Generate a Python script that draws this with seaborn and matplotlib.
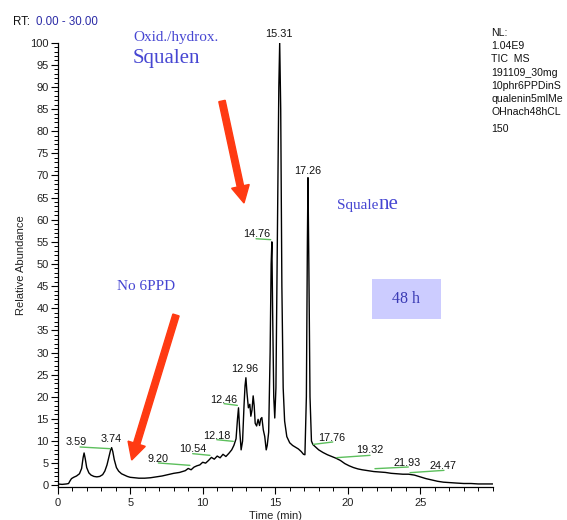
import matplotlib
matplotlib.use("Agg")
import matplotlib.pyplot as plt
import seaborn as sns
import pandas as pd
from matplotlib.patches import FancyArrow, Rectangle
from matplotlib.transforms import IdentityTransform
from matplotlib.ticker import MultipleLocator, FixedLocator

# ---------------- data ----------------
rt_min = [
    0.0, 0.3, 0.6, 0.75, 0.85, 0.95, 1.1, 1.3, 1.5, 1.65,
    1.75, 1.82, 1.9, 2.0, 2.15, 2.3, 2.5, 2.7, 2.9, 3.1,
    3.25, 3.4, 3.55, 3.65, 3.72, 3.8, 3.9, 4.05, 4.2, 4.4,
    4.6, 4.8, 5.0, 5.3, 5.6, 6.0, 6.4, 6.8, 7.2, 7.6,
    8.0, 8.4, 8.8, 9.0, 9.2, 9.4, 9.6, 9.8, 10.0, 10.2,
    10.4, 10.6, 10.8, 11.0, 11.2, 11.4, 11.6, 11.8, 12.0, 12.15,
    12.3, 12.4, 12.47, 12.55, 12.65, 12.75, 12.85, 12.92, 12.98, 13.05,
    13.15, 13.25, 13.32, 13.4, 13.48, 13.55, 13.62, 13.72, 13.82, 13.92,
    14.0, 14.08, 14.18, 14.28, 14.38, 14.45, 14.55, 14.65, 14.72, 14.77,
    14.82, 14.9, 14.97, 15.05, 15.15, 15.25, 15.31, 15.38, 15.46, 15.55,
    15.65, 15.8, 16.0, 16.2, 16.4, 16.6, 16.8, 16.95, 17.05, 17.15,
    17.22, 17.26, 17.32, 17.4, 17.5, 17.6, 17.8, 18.0, 18.3, 18.6,
    18.9, 19.2, 19.5, 19.8, 20.1, 20.4, 20.7, 21.0, 21.4, 21.8,
    22.2, 22.6, 23.0, 23.4, 23.8, 24.2, 24.6, 25.0, 25.4, 25.8,
    26.2, 26.6, 27.0, 27.5, 28.0, 28.5, 29.0, 29.5, 30.0,
]
rel_abundance = [
    0.3, 0.2, 0.3, 0.4, 1.0, 1.5, 1.8, 2.1, 2.6, 3.8,
    6.2, 7.3, 6.0, 4.0, 2.8, 2.3, 2.0, 1.9, 2.0, 2.4,
    3.2, 4.6, 6.6, 8.0, 8.5, 7.6, 5.8, 4.0, 3.2, 2.6,
    2.3, 2.0, 1.8, 1.7, 1.6, 1.6, 1.7, 1.9, 2.1, 2.4,
    2.7, 2.9, 3.3, 3.8, 3.5, 4.1, 4.4, 4.6, 5.2, 5.0,
    5.6, 6.3, 5.9, 6.6, 6.2, 7.0, 6.5, 7.2, 8.0, 9.0,
    10.5, 15.0, 17.5, 12.5, 8.0, 10.0, 18.0, 22.5, 24.3, 21.0,
    17.5, 18.3, 15.6, 17.0, 20.2, 18.0, 14.0, 13.4, 14.9, 13.5,
    15.0, 15.3, 12.5, 11.0, 8.0, 9.0, 12.0, 30.0, 50.0, 55.0,
    40.0, 20.0, 15.2, 22.0, 55.0, 90.0, 100.0, 85.0, 45.0, 22.0,
    14.5, 11.0, 9.6, 9.0, 8.6, 8.2, 7.6, 7.0, 6.9, 20.0,
    55.0, 69.5, 50.0, 20.0, 10.0, 9.2, 8.6, 8.0, 7.4, 6.9,
    6.5, 6.1, 5.6, 4.9, 4.4, 4.0, 3.7, 3.5, 3.3, 3.1,
    3.0, 2.9, 2.7, 2.6, 2.5, 2.5, 2.3, 1.9, 1.5, 1.2,
    0.9, 0.7, 0.6, 0.5, 0.4, 0.4, 0.3, 0.3, 0.3,
]
x_ticks = [0, 5, 10, 15, 20, 25]
y_ticks = list(range(0, 101, 5))

peak_labels = ["3.59", "3.74", "9.20", "10.54", "12.18", "12.46", "12.96",
               "14.76", "15.31", "17.26", "17.76", "19.32", "21.93", "24.47"]
info_lines = ["NL:", "1.04E9", "TIC  MS", "191109_30mg", "10phr6PPDinS",
              "qualenin5mlMe", "OHnach48hCL", "150"]

# ---------------- annotation layout ----------------
label_pos = [(1.31, 9.78), (3.72, 10.37), (6.90, 6.0), (9.31, 8.1), (10.97, 11.1),
             (11.42, 19.3), (12.92, 26.2), (13.72, 56.8), (15.26, 101.9),
             (17.21, 71.1), (18.9, 10.7), (21.54, 7.9), (24.07, 5.1), (26.59, 4.4)]
green_segs = [((1.54, 8.65), (3.61, 8.27)), ((6.94, 5.04), (9.12, 4.5)),
              ((9.31, 7.14), (10.5, 6.76)), ((10.97, 10.3), (12.11, 9.92)),
              ((11.47, 18.44), (12.39, 18.05)), ((13.68, 55.7), (14.69, 55.5)),
              ((17.63, 9.24), (18.97, 9.78)), ((19.24, 6.24), (21.54, 6.76)),
              ((21.88, 3.75), (24.18, 4.13)), ((24.3, 2.85), (26.64, 3.37))]
info_y = [33, 46.2, 59.4, 72.6, 85.8, 99.0, 112.2, 129.0]

W, H = 567, 520
sns.set_theme(style="ticks")
plt.rcParams["font.family"] = ["Liberation Sans", "DejaVu Sans"]

fig = plt.figure(figsize=(W / 100, H / 100), dpi=100)
fig.patch.set_facecolor("white")
ax = fig.add_axes([57.7 / W, (H - 486.6) / H, 435.0 / W, 443.9 / H])
ax.set_facecolor("white")

df = pd.DataFrame({"Time (min)": rt_min, "Relative Abundance": rel_abundance})
sns.lineplot(data=df, x="Time (min)", y="Relative Abundance", color="black",
             linewidth=1.0, ax=ax, sort=False)

ax.set_xlim(0, 30)
ax.set_ylim(-0.3, 100)
ax.xaxis.set_major_locator(FixedLocator(x_ticks))
ax.xaxis.set_minor_locator(MultipleLocator(1))
ax.yaxis.set_major_locator(FixedLocator(y_ticks))
ax.yaxis.set_minor_locator(MultipleLocator(1))
sns.despine(ax=ax)
for s in ("left", "bottom"):
    ax.spines[s].set_linewidth(0.9)
    ax.spines[s].set_color("black")
ax.tick_params(which="major", length=5, width=0.8, color="black",
               labelsize=8, labelcolor="#222222", pad=1.5)
ax.tick_params(which="minor", length=3, width=0.7, color="black")
ax.tick_params(axis="x", which="major", pad=3)
ax.set_xlabel("Time (min)", fontsize=8, color="#222222")
ax.set_ylabel("Relative Abundance", fontsize=8, color="#222222")
ax.xaxis.set_label_coords(0.5, -0.055)
ax.yaxis.set_label_coords(-0.072, 0.5)

# green peak connectors and peak labels
for (p0, p1) in green_segs:
    ax.plot([p0[0], p1[0]], [p0[1], p1[1]], color="#5cbf5c", lw=1.0, clip_on=False)
for lab, (tx, ty) in zip(peak_labels, label_pos):
    ax.text(tx, ty, lab, fontsize=7.8, ha="center", va="center", color="#111111",
            clip_on=False)


def fx(x):
    return x / W


def fy(y):
    return 1 - y / H


serif = ["Liberation Serif", "DejaVu Serif"]
blue = "#4646d2"

# RT header
fig.text(fx(13), fy(25), "RT:", fontsize=8.3, va="baseline", color="#111111")
fig.text(fx(35.5), fy(25), "0.00 - 30.00", fontsize=8.3, va="baseline", color="#2b2ba6")

# right info block
for line, yy in zip(info_lines, info_y):
    fig.text(fx(491), fy(yy), line, fontsize=7.6, va="center", color="#111111")

# blue annotations
fig.text(fx(133), fy(38), "Oxid./hydrox.", fontsize=11, family=serif, color=blue,
         va="center")
fig.text(fx(133), fy(59), "Squalen", fontsize=15, family=serif, color=blue,
         va="center")
fig.text(fx(146), fy(287), "No 6PPD", fontsize=11, family=serif, color=blue,
         va="center", ha="center")
t1 = fig.text(fx(337), fy(209.3), "Squale", fontsize=11, family=serif, color=blue,
              va="baseline")
fig.canvas.draw()
bb = t1.get_window_extent()
fig.text(bb.x1 / W, fy(209.3), "ne", fontsize=15, family=serif, color=blue,
         va="baseline")

fig.add_artist(Rectangle((fx(371.7), fy(319.3)), (440.7 - 371.7) / W, 40 / H,
                         transform=fig.transFigure, facecolor="#ccccff",
                         edgecolor="none"))
fig.text(fx(406), fy(299), "48 h", fontsize=11.5, family=serif, color="#3a3ab4",
         va="center", ha="center")

# red arrows (display pixels)
red = "#ff3a12"
for (x0, y0, x1, y1) in [(222, 101, 244, 203), (176, 315, 131.7, 460)]:
    arr = FancyArrow(x0, H - y0, x1 - x0, -(y1 - y0), width=6.5, head_width=18,
                     head_length=17, length_includes_head=True, color=red,
                     transform=IdentityTransform())
    fig.add_artist(arr)

fig.savefig("out.png", dpi=100, facecolor="white")
